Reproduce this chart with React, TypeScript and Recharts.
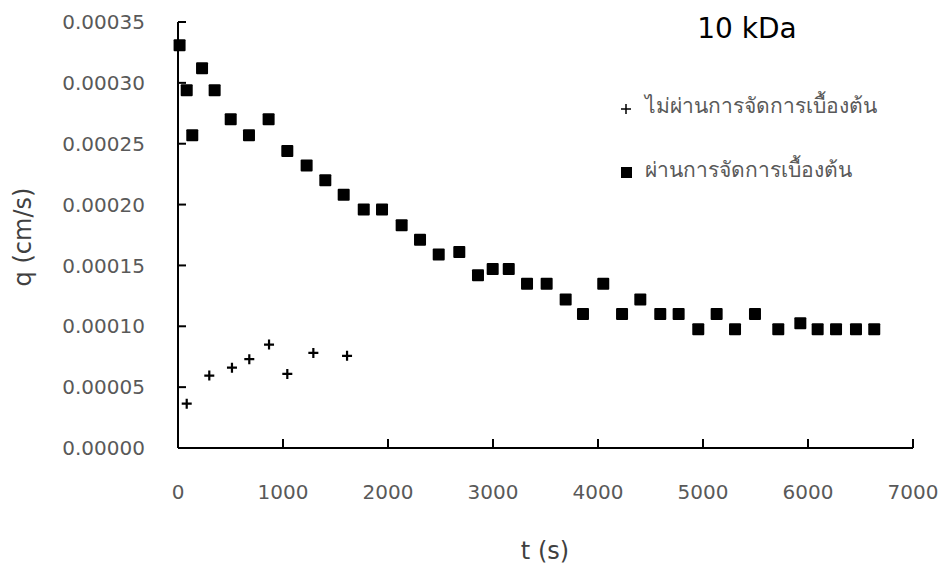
import React from "react";
import { ScatterChart, Scatter, XAxis, YAxis } from "recharts";

// Permeate flux q (cm/s) against time t (s), 10 kDa membrane
const timeTreated = [15, 83, 136, 229, 349, 502, 676, 863, 1041, 1225, 1403, 1578, 1769, 1943, 2130, 2305, 2483, 2679, 2857, 2997, 3150, 3324, 3511, 3692, 3857, 4050, 4229, 4403, 4593, 4768, 4955, 5130, 5305, 5495, 5717, 5927, 6092, 6267, 6457, 6631];
const fluxTreated = [0.000331, 0.000294, 0.000257, 0.000312, 0.000294, 0.00027, 0.000257, 0.00027, 0.000244, 0.000232, 0.00022, 0.000208, 0.000196, 0.000196, 0.000183, 0.000171, 0.000159, 0.000161, 0.000142, 0.000147, 0.000147, 0.000135, 0.000135, 0.000122, 0.00011, 0.000135, 0.00011, 0.000122, 0.00011, 0.00011, 0.0000976, 0.00011, 0.0000976, 0.00011, 0.0000976, 0.0001025, 0.0000976, 0.0000976, 0.0000976, 0.0000976];

const timeUntreated = [83, 298, 514, 679, 867, 1041, 1289, 1610];
const fluxUntreated = [0.0000364, 0.0000595, 0.000066, 0.000073, 0.000085, 0.0000609, 0.0000781, 0.0000757];

const xTicks = [0, 1000, 2000, 3000, 4000, 5000, 6000, 7000];
const yTicks = [0, 0.00005, 0.0001, 0.00015, 0.0002, 0.00025, 0.0003, 0.00035];

const titleText = "10 kDa";
const legendUntreated = "ไม่ผ่านการจัดการเบื้องต้น";
const legendTreated = "ผ่านการจัดการเบื้องต้น";
const xTitle = "t (s)";
const yTitle = "q (cm/s)";

const treated = timeTreated.map((t, i) => ({ t, q: fluxTreated[i] }));
const untreated = timeUntreated.map((t, i) => ({ t, q: fluxUntreated[i] }));

const FONT = "'DejaVu Sans', 'Noto Sans', sans-serif";
const TICK_COLOR = "#595959";
const Y_MARGIN = 33;
const X_MARGIN = 44;

const YTick = (props: any) => {
  const { x, y, payload } = props;
  const axisX = x + Y_MARGIN;
  return (
    <g>
      <line x1={axisX} x2={axisX + 8} y1={y} y2={y} stroke="#000" strokeWidth={2} />
      <text x={x} y={y} dy="0.36em" textAnchor="end" fill={TICK_COLOR} fontSize={20} fontFamily={FONT}>
        {Number(payload.value).toFixed(5)}
      </text>
    </g>
  );
};

const XTick = (props: any) => {
  const { x, y, payload } = props;
  const axisY = y - X_MARGIN;
  return (
    <g>
      {payload.value !== 0 && (
        <line x1={x} x2={x} y1={axisY} y2={axisY - 9} stroke="#000" strokeWidth={2} />
      )}
      <text x={x} y={y} dy="0.36em" textAnchor="middle" fill={TICK_COLOR} fontSize={20} fontFamily={FONT}>
        {payload.value}
      </text>
    </g>
  );
};

const SquareMark = (props: any) => {
  const { cx, cy } = props;
  return <rect x={cx - 6} y={cy - 6} width={12} height={12} rx={1} fill="#000" />;
};

const PlusMark = (props: any) => {
  const { cx, cy } = props;
  return (
    <path d={`M${cx - 5},${cy}H${cx + 5}M${cx},${cy - 5}V${cy + 5}`} stroke="#000" strokeWidth={2.2} fill="none" />
  );
};

export default function App() {
  return (
    <div style={{ position: "absolute", left: 0, top: 0, width: 943, height: 566, background: "#fff" }}>
      <ScatterChart
        width={943}
        height={566}
        margin={{ top: 22, right: 30, bottom: 58, left: 78 }}
      >
        <XAxis
          type="number"
          dataKey="t"
          domain={[0, 7000]}
          ticks={xTicks}
          height={60}
          axisLine={{ stroke: "#000", strokeWidth: 2 }}
          tickLine={false}
          tickSize={0}
          tickMargin={X_MARGIN}
          tick={<XTick />}
          interval={0}
        />
        <YAxis
          type="number"
          dataKey="q"
          domain={[0, 0.00035]}
          ticks={yTicks}
          width={100}
          axisLine={{ stroke: "#000", strokeWidth: 2 }}
          tickLine={false}
          tickSize={0}
          tickMargin={Y_MARGIN}
          tick={<YTick />}
          interval={0}
        />
        <Scatter data={treated} shape={<SquareMark />} isAnimationActive={false} />
        <Scatter data={untreated} shape={<PlusMark />} isAnimationActive={false} />
      </ScatterChart>

      <svg width={943} height={566} style={{ position: "absolute", left: 0, top: 0, pointerEvents: "none" }}>
        <text x={747} y={38} textAnchor="middle" fontSize={28} fill="#000" fontFamily={FONT}>
          {titleText}
        </text>
        <path d="M621,109H631M626,104V114" stroke="#000" strokeWidth={1.5} />
        <text x={645} y={113} fontSize={21} fill={TICK_COLOR} fontFamily={FONT}>
          {legendUntreated}
        </text>
        <rect x={621} y={167} width={11} height={11} fill="#000" />
        <text x={645} y={177} fontSize={21} fill={TICK_COLOR} fontFamily={FONT}>
          {legendTreated}
        </text>
        <text x={545} y={559} textAnchor="middle" fontSize={24} fill="#404040" fontFamily={FONT}>
          {xTitle}
        </text>
        <text
          x={0}
          y={0}
          transform="translate(31,237) rotate(-90)"
          textAnchor="middle"
          fontSize={24}
          fill="#404040"
          fontFamily={FONT}
        >
          {yTitle}
        </text>
      </svg>
    </div>
  );
}
